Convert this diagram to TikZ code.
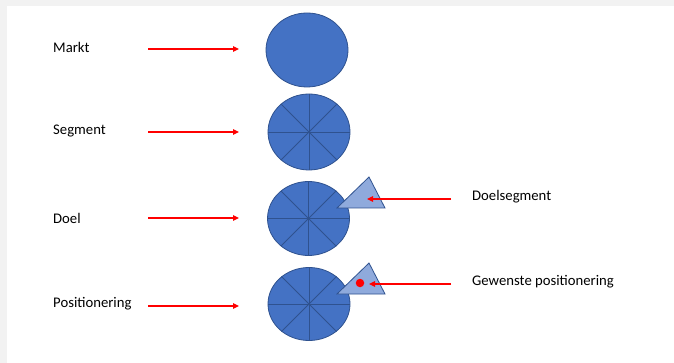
\documentclass[tikz,border=0pt]{standalone}
\usepackage{fontspec}
\setmainfont{Carlito}
\usetikzlibrary{shapes.geometric,arrows.meta}
\definecolor{bgray}{HTML}{F2F2F2}
\definecolor{cblue}{HTML}{4472C4}
\definecolor{cedge}{HTML}{2F528F}
\definecolor{tblue}{HTML}{8FAADC}
\definecolor{ared}{HTML}{FF0000}
\begin{document}
\begin{tikzpicture}[x=1pt,y=-1pt,
  lbl/.style={anchor=west,inner sep=0pt,font=\fontsize{14.7}{16}\selectfont},
  disk/.style={ellipse,draw=cedge,fill=cblue,line width=0.8pt,minimum width=82pt,minimum height=74pt,inner sep=0pt},
  seg/.style={draw=cedge,line width=0.8pt},
  tri/.style={draw=cedge,fill=tblue,line width=0.8pt,line join=miter},
  redarrow/.style={draw=ared,line width=1.2pt,-{Triangle[length=6pt,width=5.5pt]}}]
\useasboundingbox (0,0) rectangle (674,363);
\fill[bgray] (0,0) rectangle (674,363);
\fill[white] (7,6) rectangle (674,363);

% labels
\node[lbl] (tmarkt) at (53,47) {Markt};
\node[lbl] (tsegment) at (53,131) {Segment};
\node[lbl] (tdoel) at (53,218) {Doel};
\node[lbl] (tpos) at (53,304) {Positionering};
\node[lbl] (tdoelseg) at (472,197) {Doelsegment};
\node[lbl] (tgewenst) at (472,282) {Gewenste positionering};

% circles
\node[disk] (c1) at (307,50) {};
\node[disk,minimum height=76pt] (c2) at (309,132) {};
\node[disk,minimum height=74pt] (c3) at (308.5,218.5) {};
\node[disk,minimum height=73pt] (c4) at (309,304) {};
\foreach \c in {c2,c3,c4}{
  \draw[seg] (\c.north) -- (\c.south);
  \draw[seg] (\c.west) -- (\c.east);
  \draw[seg] (\c.45) -- (\c.225);
  \draw[seg] (\c.135) -- (\c.315);
}

% triangles
\coordinate (t3a) at (337,208);
\coordinate (t3b) at (369,177);
\coordinate (t3c) at (385,208);
\draw[tri] (t3a) -- (t3b) -- (t3c) -- cycle;
\coordinate (t4a) at (337,294);
\coordinate (t4b) at (369,263);
\coordinate (t4c) at (385,294);
\draw[tri] (t4a) -- (t4b) -- (t4c) -- cycle;
\node[circle,fill=ared,minimum size=8.5pt,inner sep=0pt] (dot) at (360,283) {};

% arrows
\coordinate (a1s) at (148,49); \coordinate (a1e) at (239,49);
\coordinate (a2s) at (148,132); \coordinate (a2e) at (239,132);
\coordinate (a3s) at (148,218); \coordinate (a3e) at (239,218);
\coordinate (a4s) at (148,306); \coordinate (a4e) at (239,306);
\coordinate (a5s) at (451,199); \coordinate (a5e) at (367,199);
\coordinate (a6s) at (451,284); \coordinate (a6e) at (369,284);
\foreach \i in {1,...,6}{\draw[redarrow] (a\i s) -- (a\i e);}
\end{tikzpicture}
\end{document}
